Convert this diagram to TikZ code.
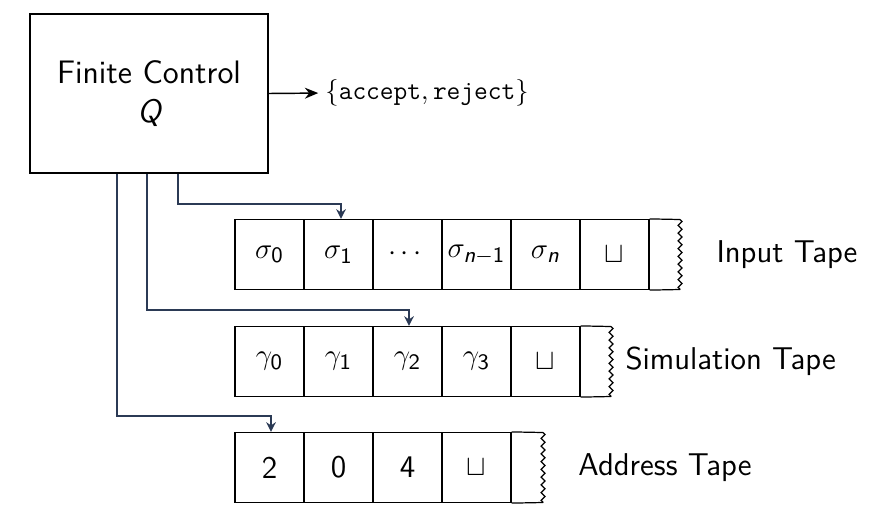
\documentclass[tikz,border=0pt]{standalone}
\usepackage{amsmath}
\usetikzlibrary{calc,decorations.pathmorphing,arrows.meta}
\renewcommand{\familydefault}{\sfdefault}
\definecolor{conncol}{HTML}{2B3A55}
\begin{document}
\begin{tikzpicture}[x=0.41236pt,y=-0.41236pt,
  cell/.style={draw,line width=0.5pt,minimum width=28.45pt,minimum height=28.86pt,inner sep=0pt,font=\fontsize{13}{15}\selectfont},
  conn/.style={draw=conncol,line width=0.8pt,-{Stealth[length=4pt,width=4pt]}},
  lbl/.style={anchor=west,font=\fontsize{13}{15}\selectfont,inner sep=0pt},
  zz/.style={decorate,decoration={zigzag,amplitude=0.8pt,segment length=3.2pt},line width=0.5pt}]
\useasboundingbox (0,0) rectangle (878,516);
\node[draw,line width=0.6pt,minimum width=98.1pt,minimum height=65.6pt,align=center,font=\fontsize{13.4}{16}\selectfont] (fc) at (149,93.5) {Finite Control\\ $\textsf{\itshape Q}$};
\node[anchor=west,inner sep=0pt,font=\fontsize{11}{13}\selectfont] (out) at (325,93) {$\{\texttt{accept},\texttt{reject}\}$};
\draw[line width=0.6pt,-{Stealth[length=5.5pt,width=4.5pt]},shorten >=2.8pt] (fc.east) -- (out.west);
% input tape
\node[cell] (i0) at (269.5,254.5) {$\sigma_{\textsf{0}}$};
\node[cell] (i1) at (338.5,254.5) {$\sigma_{\textsf{1}}$};
\node[cell] (i2) at (407.5,254.5) {$\cdots$};
\node[cell] (i3) at (476.5,254.5) {$\sigma_{\textsf{\itshape n}-\textsf{1}}$};
\node[cell] (i4) at (545.5,254.5) {$\sigma_{\textsf{\itshape n}}$};
\node[cell] (i5) at (614.5,254.5) {$\sqcup$};
\coordinate (ie1) at (680,219.5);
\coordinate (ie2) at (680,289.5);
\draw[line width=0.5pt] (i5.north east) -- (ie1);
\draw[line width=0.5pt] (i5.south east) -- (ie2);
\draw[zz] (ie1) -- (ie2);
\node[lbl] (il) at (716,254.5) {Input Tape};
% simulation tape
\node[cell] (s0) at (269.5,361.5) {$\gamma_{\textsf{0}}$};
\node[cell] (s1) at (338.5,361.5) {$\gamma_{\textsf{1}}$};
\node[cell] (s2) at (407.5,361.5) {$\gamma_{\textsf{2}}$};
\node[cell] (s3) at (476.5,361.5) {$\gamma_{\textsf{3}}$};
\node[cell] (s4) at (545.5,361.5) {$\sqcup$};
\coordinate (se1) at (611,326.5);
\coordinate (se2) at (611,396.5);
\draw[line width=0.5pt] (s4.north east) -- (se1);
\draw[line width=0.5pt] (s4.south east) -- (se2);
\draw[zz] (se1) -- (se2);
\node[lbl] (sl) at (625,361.5) {Simulation Tape};
% address tape
\node[cell] (a0) at (269.5,467.5) {2};
\node[cell] (a1) at (338.5,467.5) {0};
\node[cell] (a2) at (407.5,467.5) {4};
\node[cell] (a3) at (476.5,467.5) {$\sqcup$};
\coordinate (ae1) at (543,432.5);
\coordinate (ae2) at (543,502.5);
\draw[line width=0.5pt] (a3.north east) -- (ae1);
\draw[line width=0.5pt] (a3.south east) -- (ae2);
\draw[zz] (ae1) -- (ae2);
\node[lbl] (al) at (578,467.5) {Address Tape};
% connectors
\draw[conn] ($(fc.south west)+(149,0)$) |- ($(i1.north)+(2.5,-15)$) -- ($(i1.north)+(2.5,0)$);
\draw[conn] ($(fc.south west)+(118,0)$) |- ($(s2.north)+(1.5,-16)$) -- ($(s2.north)+(1.5,0)$);
\draw[conn] ($(fc.south west)+(88,0)$) |- ($(a0.north)+(1.5,-16)$) -- ($(a0.north)+(1.5,0)$);
\end{tikzpicture}
\end{document}
